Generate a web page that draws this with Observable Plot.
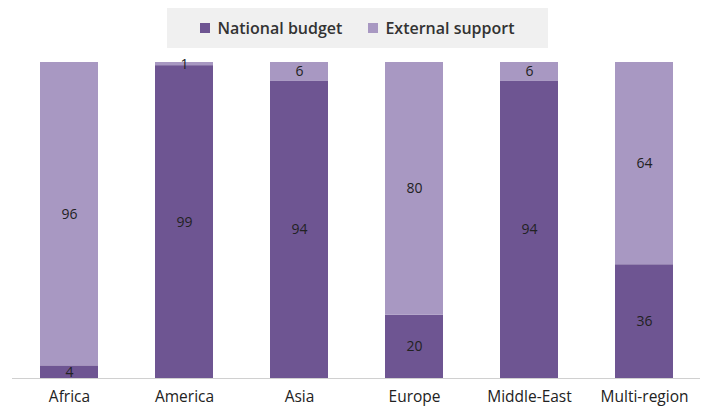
<!DOCTYPE html>
<html>
<head>
<meta charset="utf-8">
<script src="https://cdn.jsdelivr.net/npm/d3@7"></script>
<script src="https://cdn.jsdelivr.net/npm/@observablehq/plot@0.6"></script>
<style>
  body { margin: 0; background: #fff; font-family: "Open Sans", sans-serif; }
  #wrap { width: 707px; }
  #legend { height: 52px; position: relative; }
  #legend .box { position: absolute; left: 167px; top: 8px; width: 381px; height: 40px; background: #f0f0f0;
    display: flex; align-items: center; justify-content: center; gap: 26px; font-size: 16px; font-weight: 600; color: #333; }
  #legend .item { display: flex; align-items: center; gap: 7px; }
  #legend .sw { width: 10px; height: 10px; display: inline-block; }
</style>
</head>
<body>
<div id="wrap">
  <div id="legend"><div class="box" id="lbox"></div></div>
  <div id="chart"></div>
</div>
<script>
const categories = ["Africa", "America", "Asia", "Europe", "Middle-East", "Multi-region"];
const series = ["National budget", "External support"];
const nationalBudget = [4, 99, 94, 20, 94, 36];
const externalSupport = [96, 1, 6, 80, 6, 64];
const colors = ["#6e5592", "#a898c2"];

const data = [];
categories.forEach((c, i) => {
  data.push({region: c, type: series[0], value: nationalBudget[i]});
  data.push({region: c, type: series[1], value: externalSupport[i]});
});

const lbox = document.getElementById("lbox");
series.forEach((s, i) => {
  const it = document.createElement("span");
  it.className = "item";
  it.innerHTML = `<span class="sw" style="background:${colors[i]}"></span><span>${s}</span>`;
  lbox.appendChild(it);
});

const chart = Plot.plot({
  width: 707,
  height: 358,
  marginTop: 10,
  marginBottom: 32,
  marginLeft: 12,
  marginRight: 7,
  style: {fontFamily: "Open Sans, sans-serif", fontSize: "15.5px", color: "#222", background: "#fff"},
  x: {domain: categories, paddingInner: 0.5, paddingOuter: 0.24, label: null, tickSize: 0, tickPadding: 12},
  y: {domain: [0, 100], axis: null},
  color: {domain: series, range: colors},
  marks: [
    Plot.barY(data, {x: "region", y: "value", fill: "type", z: "type"}),
    Plot.ruleY([0], {stroke: "#d0d0d0", strokeWidth: 1}),
    Plot.text(data, Plot.stackY({x: "region", y: "value", z: "type", text: d => String(d.value), fill: "#222", fontSize: 14}))
  ]
});
document.getElementById("chart").appendChild(chart);
</script>
</body>
</html>
